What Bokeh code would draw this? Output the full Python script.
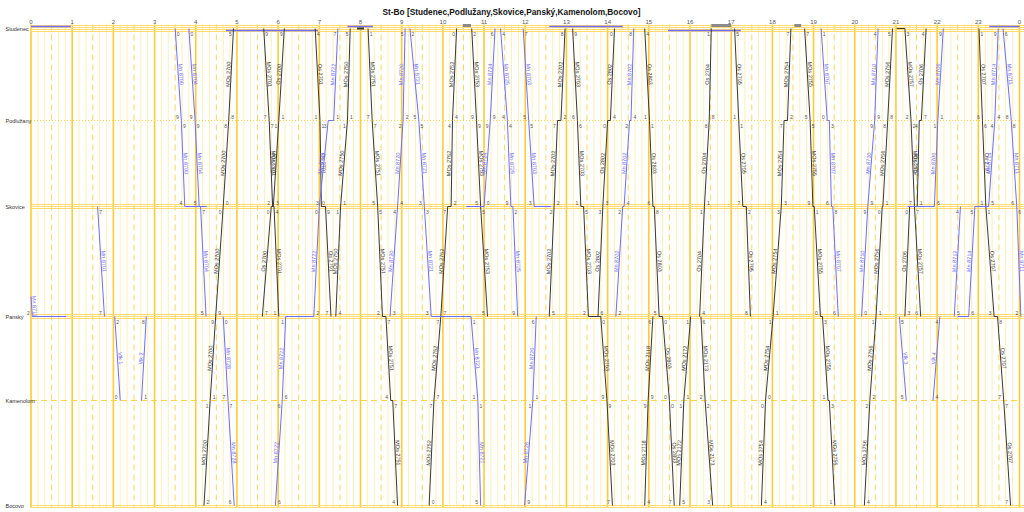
import math
from bokeh.plotting import figure
from bokeh.models import Range1d
from bokeh.embed import file_html
from bokeh.resources import INLINE
from bokeh.core.properties import value

TITLE = "St-Bo [Studenec,Podlužany,Skovice,Panský,Kamenolom,Bocovo]"
station_codes = ["S", "P", "Sk", "Pa", "Ka", "Bo"]
station_names = ["Studenec", "Podlužany", "Skovice", "Panský", "Kamenolom", "Bocovo"]
station_km = [0.0, 4.6, 8.9, 14.4, 18.6, 23.85]
hour_ticks = list(range(25))
hour_labels = [str(h % 24) for h in hour_ticks]

# (name, kind, [(station or km, "H:MM"), ...])
trains = [
    ("Mn 8711", "blue", [(13.4, "0:00"), ("Pa", "0:02"), ("Pa", "0:51")]),
    ("Mn 8701", "blue", [("Sk", "1:37"), ("Pa", "1:47")]),
    ("Vlk 1", "blue", [("Pa", "2:02"), ("Ka", "2:10")]),
    ("Vlk 2", "blue", [("Ka", "2:41"), ("Pa", "2:48")]),
    ("Mn 8700", "blue", [("S", "3:30"), ("P", "3:39"), ("Sk", "3:44"), ("Sk", "4:16")]),
    ("Mn 8704", "blue", [("S", "3:50"), ("P", "3:59"), ("Sk", "4:05"), ("Sk", "4:07"), ("Pa", "4:15")]),
    ("MOs 2700", "black", [("Bo", "4:12"), ("Ka", "4:21"), ("Pa", "4:29"), ("Sk", "4:40"), ("P", "4:48"), ("S", "4:55")]),
    ("Mn 8728", "blue", [("Pa", "4:40"), ("Ka", "4:47"), ("Bo", "4:56")]),
    ("MOs 2701", "black", [("S", "5:39"), ("P", "5:47"), ("Sk", "5:52"), ("Sk", "5:54"), ("Pa", "6:01")]),
    ("Os 2700", "black", [("Pa", "5:37"), ("Sk", "5:50"), ("Sk", "5:53"), ("P", "6:01"), ("S", "6:09")]),
    ("Mn 8722", "blue", [("Bo", "5:56"), ("Ka", "6:06"), ("Pa", "6:11"), ("Pa", "6:52"), ("Sk", "7:00"), ("P", "7:13"), ("P", "7:21"), ("S", "7:27")]),
    ("Os 2701", "black", [("S", "6:54"), ("P", "7:01"), ("Sk", "7:03"), ("Sk", "7:09"), ("Pa", "7:17")]),
    ("MOs 2750", "black", [("Pa", "7:24"), ("Sk", "7:31"), ("P", "7:41"), ("S", "7:45")]),
    ("MOs 2751", "black", [("S", "8:11"), ("P", "8:17"), ("Sk", "8:25"), ("Pa", "8:32"), ("Pa", "8:37"), ("Ka", "8:44"), ("Ka", "8:47"), ("Bo", "8:54")]),
    ("Mn 8720", "blue", [("Pa", "8:43"), ("Sk", "8:54"), ("P", "9:02"), ("S", "9:05")]),
    ("Mn 8721", "blue", [("S", "9:12"), ("P", "9:25"), ("Sk", "9:33"), ("Pa", "9:43"), ("Pa", "10:41"), ("Ka", "10:51"), ("Bo", "10:55")]),
    ("MOs 2752", "black", [("Bo", "9:40"), ("Ka", "9:47"), ("Pa", "9:57"), ("Sk", "10:07"), ("Sk", "10:12"), ("P", "10:14"), ("S", "10:20")]),
    ("MOs 2753", "black", [("S", "10:42"), ("P", "10:49"), ("Sk", "10:55"), ("Pa", "11:05")]),
    ("Mn 8724", "blue", [("Sk", "10:34"), ("Sk", "11:00"), ("P", "11:09"), ("S", "11:16")]),
    ("Mn 8725", "blue", [("S", "11:24"), ("P", "11:34"), ("Sk", "11:39"), ("Sk", "11:42"), ("Pa", "11:49")]),
    ("Mn 8703", "blue", [("S", "11:57"), ("P", "12:05"), ("Sk", "12:13"), ("Sk", "12:38")]),
    ("Mn 8726", "blue", [("Bo", "11:59"), ("Ka", "12:11"), ("Pa", "12:16")]),
    ("MOs 2702", "black", [("Pa", "12:35"), ("Sk", "12:42"), ("P", "12:47"), ("P", "12:52"), ("S", "12:58")]),
    ("MOs 2703", "black", [("S", "13:09"), ("P", "13:16"), ("Sk", "13:21"), ("Sk", "13:25"), ("Pa", "13:32"), ("Pa", "13:50"), ("Ka", "13:59"), ("Bo", "14:07")]),
    ("Os 2802", "black", [("Pa", "13:46"), ("Sk", "13:53"), ("P", "14:00"), ("P", "14:04"), ("S", "14:10")]),
    ("Mn 8702", "blue", [("Pa", "14:12"), ("Sk", "14:22"), ("Sk", "14:24"), ("P", "14:32"), ("P", "14:34"), ("S", "14:38")]),
    ("Os 2803", "black", [("S", "14:54"), ("P", "15:01"), ("Sk", "15:06"), ("Sk", "15:08"), ("Pa", "15:15"), ("Pa", "15:20"), ("Ka", "15:30"), ("Bo", "15:37")]),
    ("MOs 2118", "black", [("Bo", "14:54"), ("Ka", "14:59"), ("Pa", "15:06")]),
    ("MOs 2172", "black", [("Bo", "15:45"), ("Ka", "15:51"), ("Pa", "16:01")]),
    ("MOs 2173", "black", [("Pa", "16:16"), ("Ka", "16:22"), ("Bo", "16:33")]),
    ("Os 2704", "black", [("Pa", "16:14"), ("Sk", "16:21"), ("P", "16:28"), ("S", "16:31")]),
    ("Os 2705", "black", [("S", "17:05"), ("P", "17:11"), ("Sk", "17:17"), ("Sk", "17:22"), ("Pa", "17:28")]),
    ("MOs 2754", "black", [("Bo", "17:44"), ("Ka", "17:50"), ("Pa", "18:01"), ("Sk", "18:13"), ("P", "18:17"), ("P", "18:22"), ("S", "18:27")]),
    ("MOs 2755", "black", [("S", "18:47"), ("P", "18:55"), ("Sk", "18:59"), ("Sk", "19:01"), ("Pa", "19:10"), ("Pa", "19:13"), ("Ka", "19:21"), ("Ka", "19:23"), ("Bo", "19:31")]),
    ("Mn 8707", "blue", [("S", "19:11"), ("P", "19:20"), ("P", "19:23"), ("Sk", "19:26"), ("Sk", "19:28"), ("Pa", "19:36")]),
    ("Mn 8710", "blue", [("Pa", "20:10"), ("Sk", "20:19"), ("P", "20:29"), ("S", "20:34")]),
    ("MOs 2756", "black", [("Bo", "20:14"), ("Ka", "20:22"), ("Pa", "20:31"), ("Sk", "20:40"), ("Sk", "20:41"), ("P", "20:48"), ("S", "20:55")]),
    ("MOs 2757", "black", [("S", "21:01"), ("S", "21:13"), ("P", "21:22"), ("Sk", "21:27"), ("Pa", "21:36")]),
    ("Os 2706", "black", [("Pa", "21:13"), ("Sk", "21:20"), ("Sk", "21:31"), ("P", "21:34"), ("P", "21:37"), ("S", "21:44")]),
    ("Mn 8706", "blue", [("Sk", "21:17"), ("Sk", "21:56"), ("P", "22:01"), ("S", "22:09")]),
    ("Vlk 3", "blue", [("Pa", "21:05"), ("Ka", "21:15")]),
    ("Vlk 4", "blue", [("Ka", "21:54"), ("Pa", "22:04")]),
    ("Mn 8712", "blue", [("Pa", "22:25"), ("Sk", "22:34")]),
    ("Mn 8714", "blue", [("Pa", "22:30"), ("Pa", "22:46"), ("Sk", "22:55"), ("Sk", "23:15"), ("P", "23:24"), ("S", "23:29")]),
    ("Os 2707", "black", [("S", "23:01"), ("P", "23:06"), ("Sk", "23:11"), ("Pa", "23:23"), ("Pa", "23:28"), ("Ka", "23:37"), ("Bo", "23:47")]),
    ("Mn 8711", "blue", [("S", "23:36"), ("P", "23:48"), ("Sk", "23:56"), ("Pa", "24:02")]),
]

# standing occupations at stations: (kind, station, from, to, track)
standing = [
    ("blue", "S", "0:00", "0:58", -1),
    ("blue", "S", "4:44", "6:58", 1),
    ("blue", "S", "7:41", "8:18", -1),
    ("black", "S", "7:55", "8:05", 0),
    ("gray", "S", "10:29", "10:41", -1.5),
    ("blue", "S", "12:35", "14:22", -1),
    ("blue", "S", "15:28", "17:14", 1),
    ("gray", "S", "16:31", "17:00", -1.5),
    ("gray", "S", "18:32", "18:42", -1.5),
    ("blue", "S", "23:16", "24:00", -1),
]

# ---------------- layout / style ----------------
W, H = 1024, 512
X0, X24 = 30.5, 1019        # figure px of 0:00 and 24:00
Y_S, PX_KM = 28, 20.0       # figure px (from top) of Studenec, px per km
pxpm = (X24 - X0) / 1440.0
x_start = -X0 / pxpm
x_end = 1440 + (W - X24) / pxpm
y_top = -Y_S / PX_KM
y_bot = (H - Y_S) / PX_KM
FONT = value("Liberation Sans")
COL = {"black": "#383838", "blue": "#6e6eff", "gray": "#8a8a8a"}
WID = {"black": 2, "blue": 1.5, "gray": 3}

def tmin(s):
    h, m = s.split(":")
    return int(h) * 60 + int(m)

def km_of(st):
    if isinstance(st, str):
        return station_km[station_codes.index(st)]
    return float(st)

p = figure(width=W, height=H, x_range=Range1d(x_start, x_end), y_range=Range1d(y_bot, y_top),
           x_axis_location=None, y_axis_location=None, toolbar_location=None,
           output_backend="svg", min_border=0)
p.grid.visible = False
p.outline_line_color = None

# vertical grid
grid_top = -4 / PX_KM
grid_bottom = (507 - Y_S) / PX_KM
ten = [m for m in range(0, 1441, 10) if m % 30]
half = [m for m in range(30, 1440, 60)]
hours = [h * 60 for h in hour_ticks]
p.segment(x0=ten, y0=[grid_top] * len(ten), x1=ten, y1=[grid_bottom] * len(ten), line_color="#FFEFB5", line_width=1)
p.segment(x0=half, y0=[grid_top] * len(half), x1=half, y1=[grid_bottom] * len(half), line_color="#FFD75E", line_width=1, line_dash="6 4")
p.segment(x0=hours, y0=[grid_top] * len(hours), x1=hours, y1=[grid_bottom] * len(hours), line_color="#FFCC33", line_width=1.6)

# station lines
tracks = {"S": [-1.5, -0.5, 0.5, 1.5], "Sk": [-1, 0, 1], "Pa": [-1, 0, 1], "Bo": [0, 1]}
for code, km in zip(station_codes, station_km):
    if code == "P":
        p.line([0, 1440], [km, km], line_color="#FFD24D", line_width=1, line_dash="1 2")
    elif code == "Ka":
        p.line([0, 1440], [km, km], line_color="#FFD24D", line_width=1, line_dash="6 4")
    else:
        for tr in tracks[code]:
            yy = km + tr * 2 / PX_KM
            p.line([0, x_end], [yy, yy], line_color="#FFDB6E", line_width=1)

# standing lines
for kind, st, a, b, tr in standing:
    yy = km_of(st) + tr * 2 / PX_KM
    p.line([tmin(a), tmin(b)], [yy, yy], line_color=COL[kind], line_width=WID[kind])

# trains
xs = {"black": [], "blue": []}
ys = {"black": [], "blue": []}
lab = {"black": dict(x=[], y=[], t=[], a=[]), "blue": dict(x=[], y=[], t=[], a=[])}
dtop = dict(x=[], y=[], t=[], dx=[])
dbot = dict(x=[], y=[], t=[], dx=[])
for name, kind, pts in trains:
    tt = [tmin(t) for _, t in pts]
    kk = [km_of(s) for s, _ in pts]
    xs[kind].append(tt)
    ys[kind].append(kk)
    for i in range(len(pts) - 1):
        t1, t2, k1, k2 = tt[i], tt[i + 1], kk[i], kk[i + 1]
        if k1 == k2:
            continue
        ang = math.atan2(-(k2 - k1) * PX_KM, (t2 - t1) * pxpm)
        L = lab[kind]
        L["x"].append((t1 + t2) / 2); L["y"].append((k1 + k2) / 2)
        L["t"].append(name); L["a"].append(ang)
        down = k2 > k1
        ends = [(pts[i][0], t1, k1), (pts[i + 1][0], t2, k2)]
        top, bot = (ends[0], ends[1]) if down else (ends[1], ends[0])
        if isinstance(top[0], str):
            dtop["x"].append(top[1]); dtop["y"].append(top[2]); dtop["t"].append(str(top[1] % 10))
            dtop["dx"].append(3 if down else -3)
        if isinstance(bot[0], str):
            dbot["x"].append(bot[1]); dbot["y"].append(bot[2]); dbot["t"].append(str(bot[1] % 10))
            dbot["dx"].append(-4 if down else 4)

for kind in ("black", "blue"):
    p.multi_line(xs[kind], ys[kind], line_color=COL[kind], line_width=1)
    L = lab[kind]
    p.text(x=L["x"], y=L["y"], text=L["t"], angle=L["a"], text_align="center", text_baseline="bottom",
           text_font=FONT, text_font_size="5.5px", text_color=COL[kind])

p.text(x=dtop["x"], y=dtop["y"], text=dtop["t"], x_offset=dtop["dx"], y_offset=3, text_align="center",
       text_baseline="top", text_font=FONT, text_font_size="5px", text_color="#555555")
p.text(x=dbot["x"], y=dbot["y"], text=dbot["t"], x_offset=dbot["dx"], y_offset=-2, text_align="center",
       text_baseline="bottom", text_font=FONT, text_font_size="5px", text_color="#555555")

# hour labels
p.text(x=hours, y=[grid_top] * len(hours), text=hour_labels, y_offset=-1, text_align="center",
       text_baseline="bottom", text_font=FONT, text_font_size="6px", text_color="#555555")

# station labels
p.text(x=[x_start + 5 / pxpm] * len(station_names), y=station_km, text=station_names, text_align="left",
       text_baseline="middle", text_font=FONT, text_font_size="5.5px", text_color="#333333")

# title
p.text(x=[(511 - X0) / pxpm], y=[(11 - Y_S) / PX_KM], text=[TITLE], text_align="center", text_baseline="middle",
       text_font=FONT, text_font_size="8.3px", text_font_style="bold", text_color="#111111")

open("out.html", "w").write(file_html(p, INLINE))
